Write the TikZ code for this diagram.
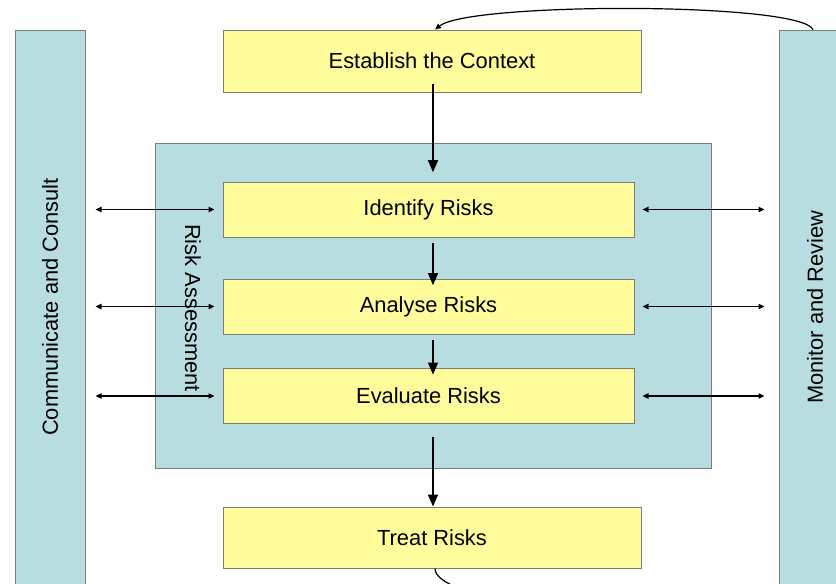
\documentclass[tikz,border=0pt]{standalone}
\usepackage{fontspec}
\setmainfont{Liberation Sans}
\usetikzlibrary{arrows.meta}

\definecolor{stepyellow}{RGB}{255,253,155}
\definecolor{frameteal}{RGB}{184,221,224}
\definecolor{edgegray}{RGB}{125,125,125}

\tikzset{every picture/.style={line width=0.75pt}}
\tikzset{
  labelfont/.style={font=\fontsize{16.4}{19}\selectfont},
  stagebox/.style={labelfont, draw=edgegray, fill=stepyellow, inner sep=0pt,
    minimum width=308.25pt, minimum height=41.25pt},
  widebox/.style={stagebox, minimum width=313.5pt, minimum height=46.5pt},
  tealframe/.style={draw=edgegray, fill=frameteal, inner sep=0pt},
  sidebar/.style={tealframe, labelfont, rotate=90, minimum width=415.5pt},
  flowarrow/.style={line width=1pt, -{Triangle[length=9pt,width=7.5pt]}},
  linkarrow/.style={line width=0.9pt, {Triangle[length=4.5pt,width=4pt]}-{Triangle[length=4.5pt,width=4pt]}},
  looparrow/.style={line width=0.9pt, -{Triangle[length=4.5pt,width=4pt]}}
}

\begin{document}
\begin{tikzpicture}[x=0.75pt,y=0.75pt,yscale=-1,xscale=1]

\useasboundingbox (0,0) rectangle (836,583);
\clip (0,0) rectangle (836,583);

% frames
\node [tealframe, minimum width=417pt, minimum height=243.75pt] (assess) at (433,305.5) {};
\node [sidebar, minimum height=52.5pt] (comm) at (50,307) {Communicate and Consult};
\node [sidebar, minimum height=54pt] (monitor) at (815,307) {Monitor and Review};
\node [labelfont, rotate=-90, inner sep=0.75pt] (assesslabel) at (193,308) {Risk Assessment};

% steps
\node [widebox] (context) at (432,61) {Establish the Context};
\node [stagebox] (ident) at (428.5,209.5) {Identify Risks};
\node [stagebox] (analyse) at (428.5,306.5) {Analyse Risks};
\node [stagebox] (evaluate) at (428.5,396) {Evaluate Risks};
\node [widebox, minimum height=45.75pt] (treat) at (432,537.5) {Treat Risks};

% flow
\coordinate (axis) at (433,0);
\draw [flowarrow, shorten <=-6.5pt, shorten >=7pt] (axis |- context.south) -- (axis |- ident.north);
\draw [flowarrow, shorten <=4pt, shorten >=-5pt] (axis |- ident.south) -- (axis |- analyse.north);
\draw [flowarrow, shorten <=4pt, shorten >=-5pt] (axis |- analyse.south) -- (axis |- evaluate.north);
\draw [flowarrow, shorten <=9.75pt] (axis |- evaluate.south) -- (axis |- treat.north);

% communicate / monitor links
\foreach \s in {ident,analyse,evaluate} {
  \draw [linkarrow, shorten <=7.5pt, shorten >=6pt] (comm.south |- \s.west) -- (\s.west);
  \draw [linkarrow, shorten <=6pt, shorten >=10.5pt] (\s.east) -- (monitor.north |- \s.east);
}

% feedback loop
\coordinate (loopend) at (813,625);
\draw [looparrow] ([xshift=-1.5pt]monitor.east) .. controls (800,2) and (470,2) .. ([xshift=2.25pt]context.north);
\draw [line width=0.9pt] ([xshift=2.25pt]treat.south) .. controls (435,600) and (600,620) .. (loopend);

\end{tikzpicture}
\end{document}
